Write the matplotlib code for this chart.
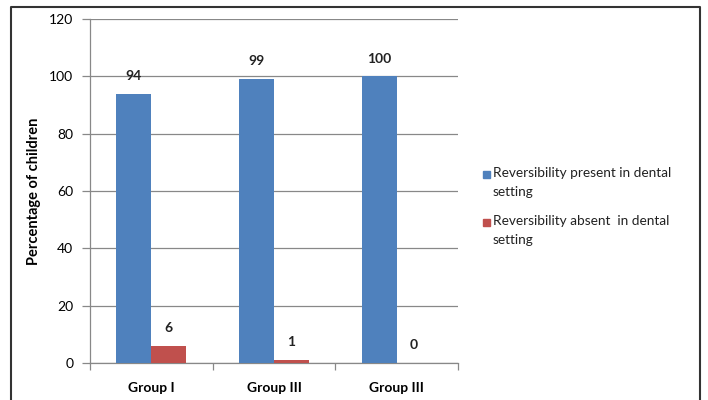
import numpy as np
import matplotlib.pyplot as plt
from matplotlib.lines import Line2D
from matplotlib.patches import Rectangle

groups = ['Group I', 'Group III', 'Group III']
present = [94, 99, 100]
absent = [6, 1, 0]
series_names = ['Reversibility present in dental\nsetting',
                'Reversibility absent  in dental\nsetting']
colors = ['#4F81BD', '#C0504D']

plt.rcParams['font.family'] = ['Lato', 'DejaVu Sans']

fig = plt.figure(figsize=(7.08, 4.0), dpi=100)
ax = fig.add_axes([0.1271, 0.0925, 0.5198, 0.86])

x = np.arange(len(groups))
w = 0.285
b1 = ax.bar(x - w / 2, present, w, color=colors[0], zorder=3)
b2 = ax.bar(x + w / 2, absent, w, color=colors[1], zorder=3)

for bars, vals in ((b1, present), (b2, absent)):
    for rect, v in zip(bars, vals):
        ax.annotate(str(v), (rect.get_x() + rect.get_width() / 2, v),
                    xytext=(0, 8.5), textcoords='offset points',
                    ha='center', va='bottom', fontsize=10, fontweight='bold',
                    color='#222222')

ax.set_xlim(-0.5, 2.5)
ax.set_ylim(0, 120)
ax.set_yticks(range(0, 121, 20))
ax.yaxis.grid(True, color='#888888', linewidth=0.9, zorder=0)
ax.set_xticks(x)
ax.set_xticklabels(groups, fontsize=10, fontweight='bold')
ax.set_xticks([-0.5, 0.5, 1.5, 2.5], minor=True)
ax.tick_params(axis='x', which='major', length=0, pad=14)
ax.tick_params(axis='x', which='minor', length=5, color='#888888', width=0.9)
ax.tick_params(axis='y', length=6, color='#888888', width=0.9, labelsize=10, pad=6)
for s in ('top', 'right'):
    ax.spines[s].set_visible(False)
for s in ('left', 'bottom'):
    ax.spines[s].set_color('#888888')
    ax.spines[s].set_linewidth(0.9)

ax.set_ylabel('Percentage of children', fontsize=10.5, fontweight='bold', labelpad=6)

# legend: square marker next to first line of each wrapped label
for i, (name, c) in enumerate(zip(series_names, colors)):
    y_top = 1 - (167 + 48 * i) / 400
    fig.add_artist(Rectangle((483 / 708, y_top - 11 / 400), 7 / 708, 7 / 400,
                             transform=fig.transFigure, color=c))
    fig.text(493 / 708, y_top, name, ha='left', va='top', fontsize=9.8,
             linespacing=1.75, color='#222222')

# outer frame
fig.add_artist(Line2D([0.0155, 0.0155, 0.989, 0.989], [-0.01, 0.9825, 0.9825, -0.01],
                      transform=fig.transFigure, color='#333333', linewidth=1.5))

fig.savefig('out.png', dpi=100)
